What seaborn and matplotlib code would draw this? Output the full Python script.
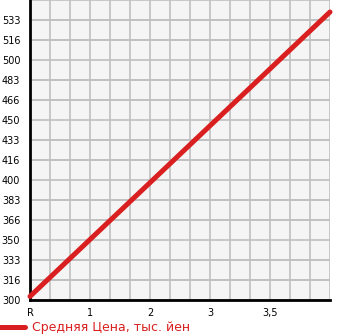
import matplotlib
matplotlib.use("Agg")
import matplotlib.pyplot as plt
import seaborn as sns
import pandas as pd
import numpy as np

# data
x_pos = [0, 15]
prices = [303, 540]
x_tick_pos = [0, 3, 6, 9, 12]
x_tick_labels = ["R", "1", "2", "3", "3,5"]
y_ticks = [300, 316.67, 333.33, 350, 366.67, 383.33, 400, 416.67, 433.33, 450,
           466.67, 483.33, 500, 516.67, 533.33]
y_tick_labels = ["300", "316", "333", "350", "366", "383", "400", "416", "433",
                 "450", "466", "483", "500", "516", "533"]
series_name = "Средняя Цена, тыс. йен"

sns.set_style("white")
plt.rcParams['font.family'] = ['DejaVu Sans']

W, H = 345, 335
fig = plt.figure(figsize=(W / 100, H / 100), dpi=100)
ax = fig.add_axes([30 / W, (H - 300) / H, 300 / W, 300 / H])
ax.set_facecolor("#f5f5f5")

df = pd.DataFrame({"x": x_pos, "price": prices})
sns.lineplot(data=df, x="x", y="price", ax=ax, color="#d91f1f", linewidth=3.6,
             label=series_name, solid_capstyle="round", legend=False, clip_on=False, zorder=5)

ax.set_xlim(0, 15)
ax.set_ylim(300, 550)

ax.set_xticks(x_tick_pos)
ax.set_xticklabels(x_tick_labels)
ax.set_yticks(y_ticks)
ax.set_yticklabels(y_tick_labels)
# grid
ax.set_xticks(np.arange(0, 16, 1), minor=True)
ax.set_yticks(np.arange(300, 551, 250 / 15), minor=True)
ax.grid(True, which="both", color="#c0c0c0", linewidth=1.2, zorder=0)
ax.set_axisbelow(True)

ax.tick_params(axis="both", which="both", length=4, width=1, color="black",
               labelsize=7, labelcolor="black", direction="out")
ax.tick_params(axis="x", which="both", pad=2)
ax.tick_params(axis="y", which="both", pad=3)
ax.tick_params(axis="y", which="minor", length=0)
ax.set_xlabel("")
ax.set_ylabel("")

for s in ["top", "right"]:
    ax.spines[s].set_visible(False)
for s in ["left", "bottom"]:
    ax.spines[s].set_color("black")
    ax.spines[s].set_linewidth(2)

handles, labels = ax.get_legend_handles_labels()
leg = fig.legend(handles, labels, loc="center left", bbox_to_anchor=(0, 7 / H),
                 frameon=False, fontsize=9, handlelength=2.0, handletextpad=0.6,
                 borderpad=0, borderaxespad=0)
for t in leg.get_texts():
    t.set_color("#d91f1f")

fig.savefig("out.png", dpi=100)
